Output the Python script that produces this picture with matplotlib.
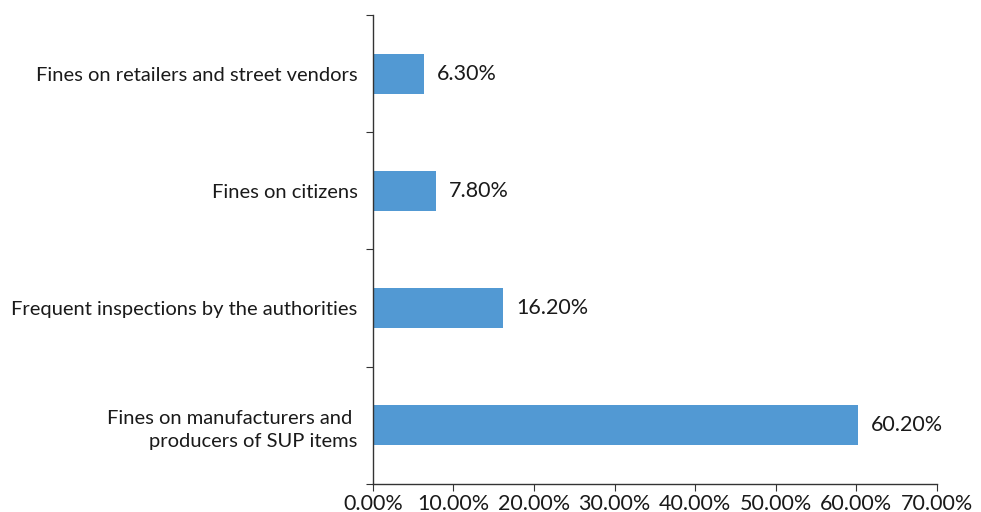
import matplotlib
matplotlib.use("Agg")
import matplotlib.pyplot as plt

categories = ["Fines on manufacturers and \nproducers of SUP items",
              "Frequent inspections by the authorities",
              "Fines on citizens",
              "Fines on retailers and street vendors"]
values = [60.2, 16.2, 7.8, 6.3]
xticks = [0, 10, 20, 30, 40, 50, 60, 70]

plt.rcParams['font.family'] = ['Lato', 'DejaVu Sans']
fs = 14.5
fs2 = 15.5
fig = plt.figure(figsize=(9.81, 5.12), dpi=100)
ax = fig.add_axes([0.380, 0.0547, 0.575, 0.916])
y = list(range(len(categories)))
ax.barh(y, values, height=0.34, color='#5299D3')
for yi, v in zip(y, values):
    ax.text(v + 1.6, yi, f"{v:.2f}%", va='center', ha='left', fontsize=fs2, color='#1a1a1a')
ax.set_xlim(0, 70)
ax.set_ylim(-0.5, 3.5)
ax.set_xticks(xticks)
ax.set_xticklabels([f"{t:.2f}%" for t in xticks], fontsize=fs2, color='#1a1a1a')
ax.set_yticks([-0.5, 0.5, 1.5, 2.5, 3.5])
ax.set_yticklabels([])
ax.set_yticks(y, minor=True)
ax.set_yticklabels(categories, minor=True, fontsize=fs, color='#1a1a1a')
ax.tick_params(axis='y', which='minor', length=0, pad=11)
ax.tick_params(axis='y', which='major', length=5, color='#333333')
ax.tick_params(axis='x', length=5, color='#333333', pad=2)
for s in ['top', 'right']:
    ax.spines[s].set_visible(False)
for s in ['left', 'bottom']:
    ax.spines[s].set_color('#333333')
    ax.spines[s].set_linewidth(1)
for lbl in ax.get_yticklabels(minor=True):
    lbl.set_multialignment('right')
    lbl.set_linespacing(1.45)
fig.savefig('out.png', dpi=100)
